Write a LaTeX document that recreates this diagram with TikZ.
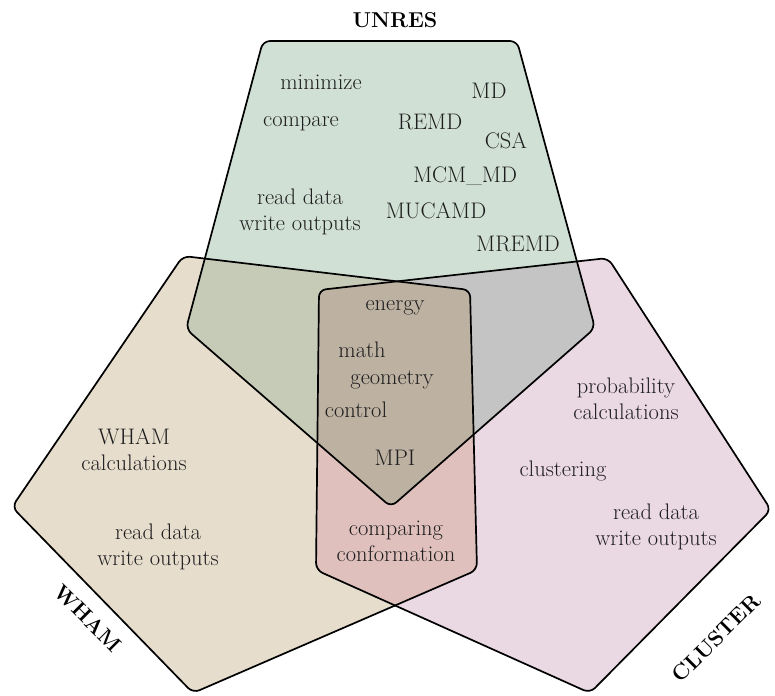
\documentclass[tikz,border=0pt]{standalone}
\usepackage{tikz}
\definecolor{unresC}{RGB}{208,224,213}
\definecolor{whamC}{RGB}{230,221,205}
\definecolor{clusC}{RGB}{234,216,227}
\definecolor{uwC}{RGB}{197,203,182}
\definecolor{ucC}{RGB}{196,196,196}
\definecolor{wcC}{RGB}{223,192,189}
\definecolor{uwcC}{RGB}{189,177,162}
\definecolor{txtC}{RGB}{30,30,30}
\tikzset{
  lbl/.style={font=\fontsize{22.5}{26}\selectfont, align=center, text=txtC, inner sep=0pt},
  setname/.style={font=\fontsize{21.5}{26}\selectfont\bfseries, text=black, inner sep=0pt},
  rc/.style={rounded corners=7pt},
  outline/.style={draw=black, line width=1.7pt, rounded corners=7pt, line join=round}
}
\def\pU{(263,41) -- (517,41) -- (595,328) -- (391,507) -- (186,329) -- cycle}
\def\pW{(183,256) -- (470,290) -- (477,570) -- (193,693) -- (12,507) -- cycle}
\def\pC{(319,290) -- (608,258) -- (771,510) -- (590,693) -- (316,570) -- cycle}
\begin{document}
\begin{tikzpicture}[x=1pt,y=-1pt]
\useasboundingbox (0,0) rectangle (775,695);
% base fills
\fill[unresC,rc] \pU;
\fill[whamC,rc] \pW;
\fill[clusC,rc] \pC;
% pairwise overlaps
\begin{scope}
  \clip[rc] \pU;
  \fill[uwC,rc] \pW;
\end{scope}
\begin{scope}
  \clip[rc] \pU;
  \fill[ucC,rc] \pC;
\end{scope}
\begin{scope}
  \clip[rc] \pW;
  \fill[wcC,rc] \pC;
\end{scope}
\begin{scope}
  \clip[rc] \pU;
  \clip[rc] \pW;
  \fill[uwcC,rc] \pC;
\end{scope}
% outlines
\draw[outline] \pU;
\draw[outline] \pW;
\draw[outline] \pC;
% set names
\node[setname] (tU) at (395,20) {UNRES};
\node[setname, rotate=-45] (tW) at (88,618) {WHAM};
\node[setname, rotate=45] (tC) at (716,638) {CLUSTER};
% UNRES texts
\node[lbl] (minimize) at (321,82) {minimize};
\node[lbl] (compare) at (301,124) {compare};
\node[lbl] (md) at (489,91) {MD};
\node[lbl] (remd) at (430,122) {REMD};
\node[lbl] (csa) at (506,141) {CSA};
\node[lbl] (mcmmd) at (465,176) {MCM\_MD};
\node[lbl] (mucamd) at (436,211) {MUCAMD};
\node[lbl] (mremd) at (518,244) {MREMD};
\node[lbl] (rwU) at (300,212) {read data\\write outputs};
% centre
\node[lbl] (energy) at (395,308) {energy};
\node[lbl] (math) at (362,350) {math};
\node[lbl] (geometry) at (392,380) {geometry};
\node[lbl] (control) at (356,410) {control};
\node[lbl] (mpi) at (395,458) {MPI};
\node[lbl] (comp) at (396,541) {comparing\\conformation};
% WHAM texts
\node[lbl] (whamcalc) at (134,450) {WHAM\\calculations};
\node[lbl] (rwW) at (158,547) {read data\\write outputs};
% CLUSTER texts
\node[lbl] (prob) at (626,399) {probability\\calculations};
\node[lbl] (clustering) at (563,471) {clustering};
\node[lbl] (rwC) at (656,527) {read data\\write outputs};
\end{tikzpicture}
\end{document}
